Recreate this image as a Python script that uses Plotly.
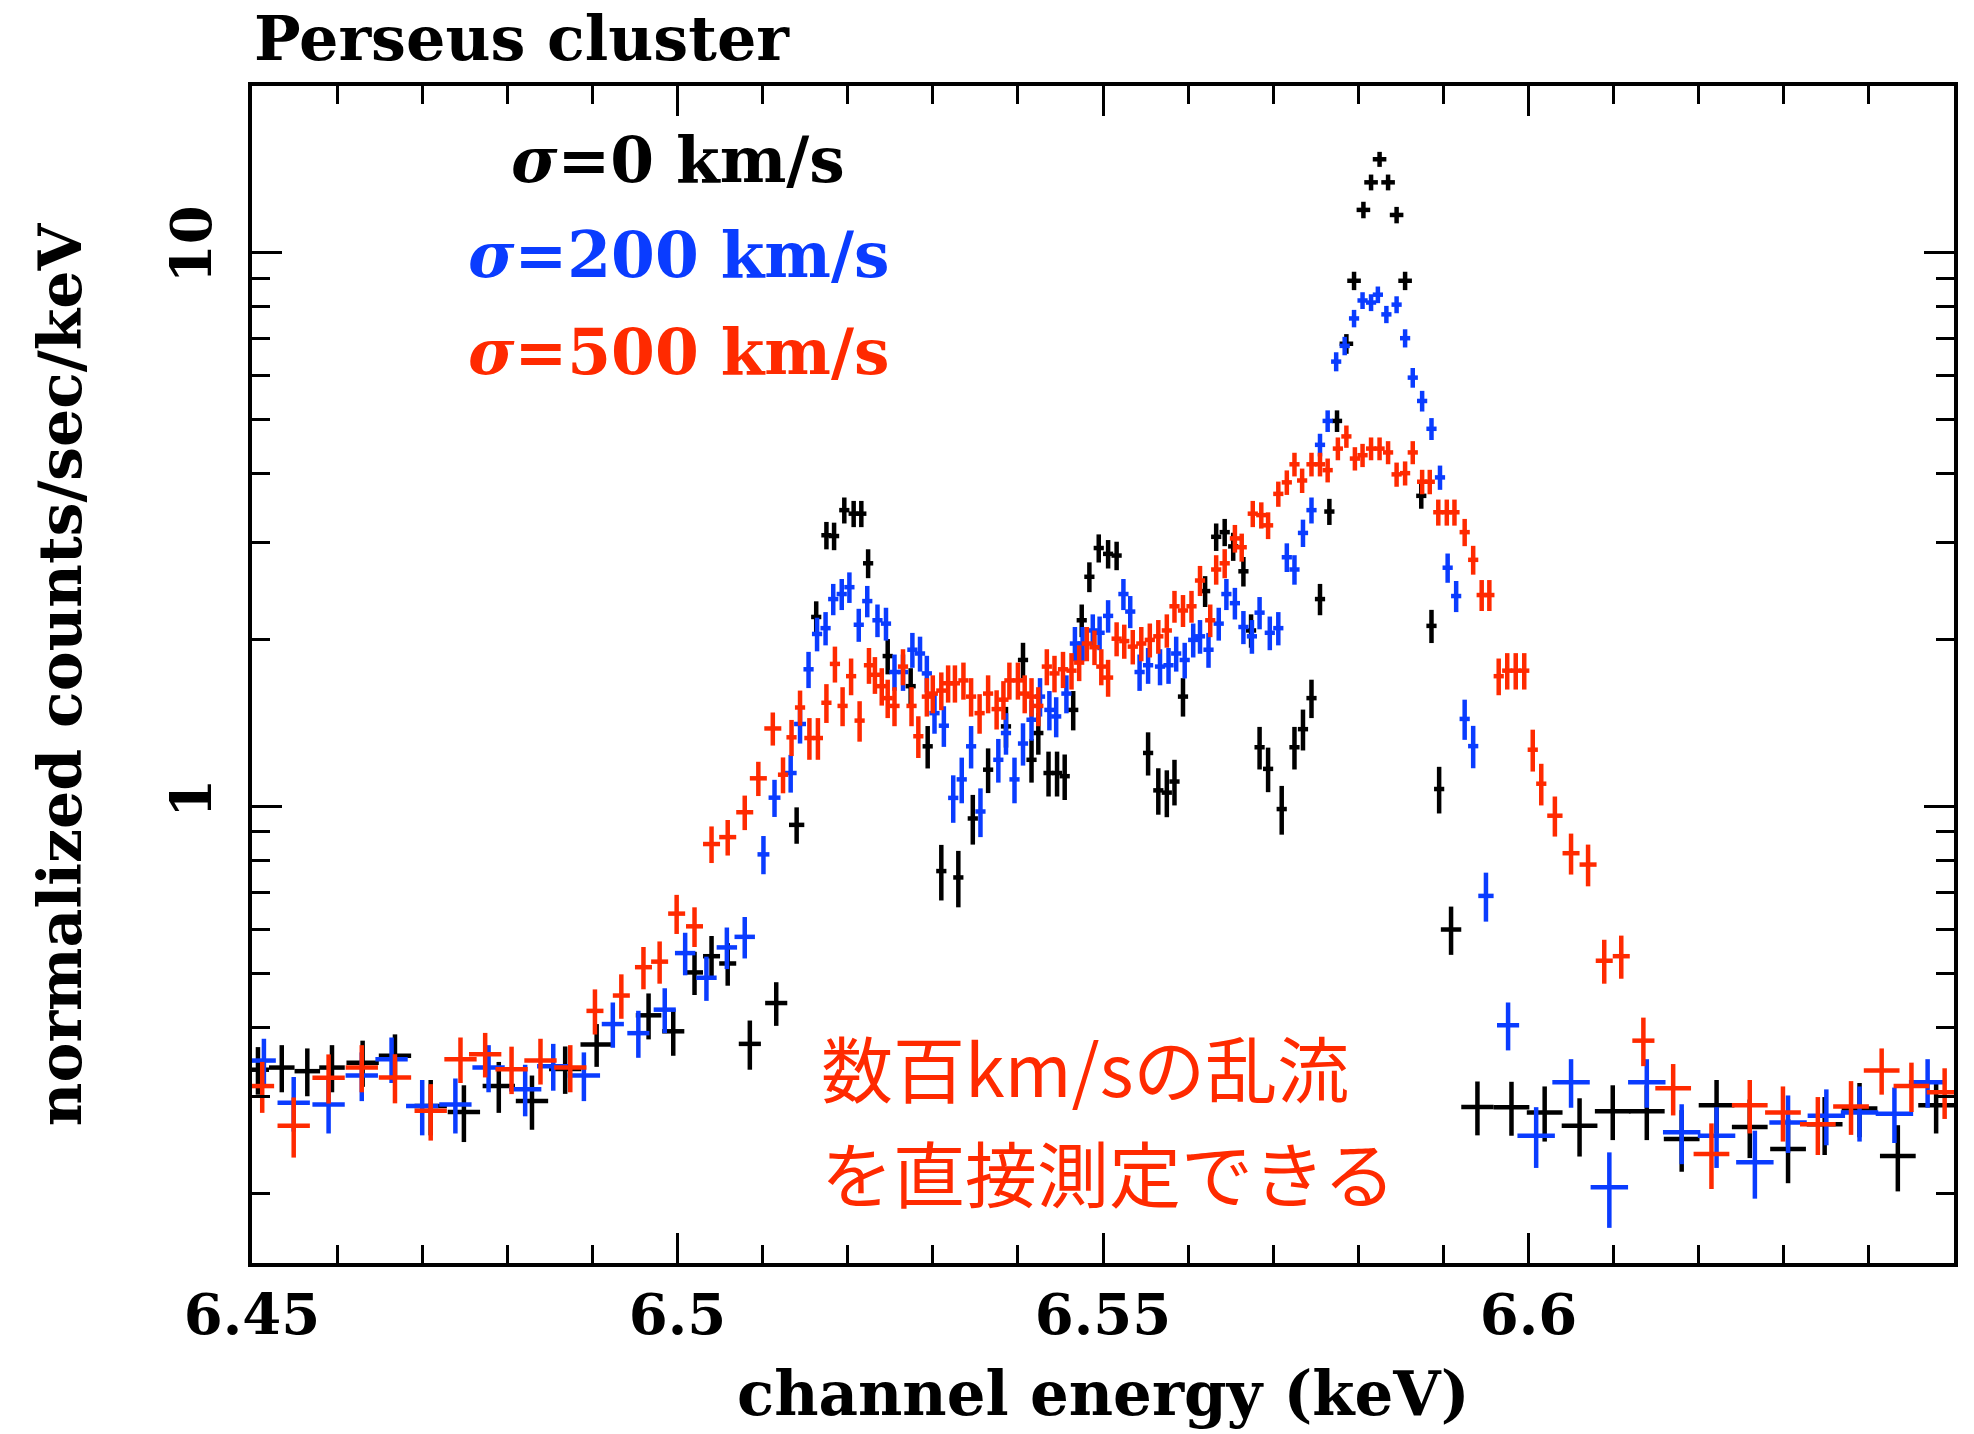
import math
import plotly.graph_objects as go

# ---------------- data ----------------
# sigma = 0 km/s (black)
bk_E = [6.4507, 6.4535, 6.4565, 6.4594, 6.4630, 6.4668, 6.4710, 6.4749, 6.4790, 6.4829,
        6.4868, 6.4905, 6.4966, 6.4995, 6.5020, 6.5040, 6.5059, 6.5085, 6.5116, 6.5140,
        6.5163, 6.5175, 6.5184, 6.5196, 6.5207, 6.5216, 6.5224, 6.5247, 6.5274, 6.5294,
        6.5310, 6.5330, 6.5347, 6.5365, 6.5386, 6.5406, 6.5416, 6.5424, 6.5436, 6.5446,
        6.5455, 6.5465, 6.5475, 6.5484, 6.5495, 6.5506, 6.5516, 6.5553, 6.5565, 6.5575,
        6.5584, 6.5594, 6.5620, 6.5633, 6.5643, 6.5653, 6.5665, 6.5674, 6.5684, 6.5694,
        6.5710, 6.5725, 6.5735, 6.5745, 6.5755, 6.5766, 6.5775, 6.5786, 6.5795, 6.5806,
        6.5815, 6.5825, 6.5835, 6.5845, 6.5855, 6.5874, 6.5886, 6.5895, 6.5909, 6.5940,
        6.5980, 6.6019, 6.6060, 6.6099, 6.6139, 6.6180, 6.6221, 6.6260, 6.6305, 6.6348,
        6.6389, 6.6434, 6.6479]
bk_v = [0.335, 0.338, 0.333, 0.338, 0.345, 0.355, 0.288, 0.281, 0.313, 0.294,
        0.336, 0.372, 0.42, 0.393, 0.502, 0.537, 0.521, 0.373, 0.442, 0.927,
        2.2, 3.09, 3.08, 3.43, 3.38, 3.38, 2.75, 1.87, 1.65, 1.285,
        0.765, 0.745, 0.952, 1.166, 1.396, 1.84, 1.215, 1.358, 1.15, 1.15,
        1.135, 1.495, 2.17, 2.6, 2.93, 2.86, 2.84, 1.25, 1.07, 1.06,
        1.11, 1.58, 2.45, 3.07, 3.13, 2.95, 2.66, 2.08, 1.28, 1.17,
        0.99, 1.28, 1.38, 1.57, 2.37, 3.41, 4.97, 6.85, 8.9, 11.95,
        13.4, 14.75, 13.4, 11.7, 8.9, 3.64, 2.12, 1.076, 0.60, 0.287,
        0.2866, 0.2805, 0.2655, 0.282, 0.282, 0.2512, 0.289, 0.264, 0.241, 0.267,
        0.285, 0.234, 0.289]
bk_dv = [0.033, 0.033, 0.033, 0.033, 0.033, 0.033, 0.033, 0.033, 0.033, 0.033,
         0.033, 0.033, 0.04, 0.038, 0.045, 0.047, 0.046, 0.038, 0.04, 0.07,
         0.148, 0.176, 0.176, 0.185, 0.184, 0.184, 0.165, 0.137, 0.128, 0.113,
         0.088, 0.087, 0.098, 0.108, 0.118, 0.136, 0.11, 0.117, 0.107, 0.107,
         0.107, 0.122, 0.147, 0.161, 0.171, 0.169, 0.168, 0.112, 0.103, 0.103,
         0.105, 0.126, 0.157, 0.175, 0.177, 0.172, 0.163, 0.144, 0.113, 0.108,
         0.1, 0.113, 0.117, 0.125, 0.154, 0.185, 0.223, 0.28, 0.34, 0.41,
         0.44, 0.46, 0.44, 0.40, 0.34, 0.19, 0.146, 0.104, 0.06, 0.032,
         0.032, 0.032, 0.032, 0.032, 0.032, 0.032, 0.032, 0.032, 0.032, 0.032,
         0.032, 0.032, 0.032]
bk_dE = ([0.0013] + [0.0015] * 3 + [0.0019] * 8 + [0.0015, 0.0013] + [0.001] * 3
         + [0.0013, 0.0013, 0.0009] + [0.0006] * 47 + [0.0008] * 8 + [0.0006] * 3
         + [0.0012, 0.0019] + [0.0021] * 13)

# sigma = 200 km/s (blue)
bl_E = [6.4514, 6.4549, 6.4590, 6.4629, 6.4664, 6.4700, 6.4739, 6.4778, 6.4821, 6.4854,
        6.4890, 6.4924, 6.4954, 6.4985, 6.5009, 6.5034, 6.5058, 6.5079, 6.5101, 6.5114,
        6.5133, 6.5144, 6.5154, 6.5164, 6.5174, 6.5183, 6.5193, 6.5202, 6.5213, 6.5223,
        6.5235, 6.5245, 6.5255, 6.5265, 6.5276, 6.5285, 6.5293, 6.5302, 6.5313, 6.5324,
        6.5334, 6.5345, 6.5356, 6.5377, 6.5386, 6.5396, 6.5406, 6.5416, 6.5426, 6.5437,
        6.5445, 6.5457, 6.5467, 6.5476, 6.5488, 6.5496, 6.5506, 6.5524, 6.5532, 6.5543,
        6.5553, 6.5567, 6.5577, 6.5586, 6.5596, 6.5606, 6.5614, 6.5624, 6.5636, 6.5645,
        6.5655, 6.5665, 6.5675, 6.5684, 6.5696, 6.5706, 6.5716, 6.5725, 6.5735, 6.5745,
        6.5755, 6.5764, 6.5774, 6.5784, 6.5795, 6.5805, 6.5815, 6.5823, 6.5833, 6.5845,
        6.5855, 6.5864, 6.5875, 6.5886, 6.5896, 6.5905, 6.5915, 6.5925, 6.5935, 6.5950,
        6.5976, 6.6009, 6.6050, 6.6095, 6.6139, 6.6180, 6.6221, 6.6266, 6.6305, 6.6350,
        6.6389, 6.6430, 6.6469]
bl_v = [0.348, 0.292, 0.290, 0.327, 0.35, 0.288, 0.290, 0.338, 0.309, 0.34,
        0.327, 0.405, 0.39, 0.43, 0.544, 0.491, 0.557, 0.582, 0.82, 1.038,
        1.15, 1.41, 1.77, 2.05, 2.1, 2.37, 2.42, 2.49, 2.13, 2.35,
        2.17, 2.14, 1.75, 1.75, 1.92, 1.89, 1.74, 1.475, 1.40, 1.037,
        1.12, 1.285, 0.98, 1.215, 1.358, 1.12, 1.30, 1.435, 1.58, 1.495,
        1.455, 1.60, 1.97, 1.97, 2.08, 2.06, 2.21, 2.42, 2.25, 1.75,
        1.80, 1.79, 1.80, 1.89, 1.84, 2.00, 2.03, 1.92, 2.14, 2.42,
        2.33, 2.11, 2.03, 2.24, 2.06, 2.10, 2.82, 2.68, 3.12, 3.43,
        4.5, 4.97, 6.36, 6.79, 7.61, 8.2, 8.13, 8.4, 7.74, 8.06,
        7.01, 5.95, 5.40, 4.81, 3.93, 2.70, 2.40, 1.44, 1.286, 0.69,
        0.403, 0.2547, 0.318, 0.2056, 0.318, 0.2582, 0.2547, 0.228, 0.269, 0.2767,
        0.2805, 0.279, 0.318]
bl_dv = [0.033, 0.033, 0.033, 0.033, 0.033, 0.033, 0.033, 0.033, 0.033, 0.033,
         0.033, 0.038, 0.038, 0.04, 0.048, 0.045, 0.048, 0.05, 0.065, 0.08,
         0.09, 0.11, 0.133, 0.143, 0.145, 0.154, 0.156, 0.158, 0.146, 0.153,
         0.147, 0.146, 0.132, 0.132, 0.139, 0.137, 0.132, 0.121, 0.118, 0.102,
         0.106, 0.113, 0.099, 0.11, 0.117, 0.106, 0.114, 0.12, 0.126, 0.122,
         0.121, 0.126, 0.14, 0.14, 0.144, 0.144, 0.149, 0.156, 0.15, 0.132,
         0.134, 0.134, 0.134, 0.137, 0.136, 0.141, 0.142, 0.139, 0.146, 0.156,
         0.153, 0.145, 0.142, 0.15, 0.144, 0.145, 0.168, 0.164, 0.177, 0.185,
         0.212, 0.223, 0.252, 0.26, 0.276, 0.286, 0.285, 0.29, 0.278, 0.284,
         0.265, 0.244, 0.232, 0.219, 0.198, 0.164, 0.155, 0.12, 0.113, 0.07,
         0.04, 0.032, 0.032, 0.032, 0.032, 0.032, 0.032, 0.032, 0.032, 0.032,
         0.032, 0.032, 0.032]
bl_dE = ([0.0014] + [0.0019] * 10 + [0.0013] * 3 + [0.0012] * 4 + [0.0007] * 4
         + [0.0006] * 77 + [0.0009, 0.0013] + [0.0022] * 12)

# sigma = 500 km/s (red)
rd_E = [6.4512, 6.4549, 6.4590, 6.4629, 6.4668, 6.4710, 6.4745, 6.4774, 6.4805, 6.4839,
        6.4874, 6.4903, 6.4934, 6.4960, 6.4979, 6.4999, 6.5020, 6.5040, 6.5059, 6.5079,
        6.5095, 6.5112, 6.5124, 6.5134, 6.5144, 6.5155, 6.5165, 6.5175, 6.5185, 6.5194,
        6.5204, 6.5214, 6.5225, 6.5232, 6.5240, 6.5247, 6.5255, 6.5265, 6.5275, 6.5283,
        6.5293, 6.5300, 6.5310, 6.5318, 6.5326, 6.5336, 6.5345, 6.5355, 6.5365, 6.5375,
        6.5383, 6.5390, 6.5400, 6.5408, 6.5416, 6.5424, 6.5434, 6.5443, 6.5453, 6.5463,
        6.5472, 6.5481, 6.5490, 6.5498, 6.5506, 6.5516, 6.5525, 6.5535, 6.5545, 6.5555,
        6.5565, 6.5575, 6.5584, 6.5594, 6.5604, 6.5614, 6.5626, 6.5633, 6.5643, 6.5655,
        6.5663, 6.5676, 6.5686, 6.5694, 6.5706, 6.5716, 6.5725, 6.5734, 6.5745, 6.5755,
        6.5764, 6.5776, 6.5786, 6.5796, 6.5805, 6.5815, 6.5825, 6.5835, 6.5845, 6.5855,
        6.5864, 6.5875, 6.5884, 6.5894, 6.5904, 6.5913, 6.5925, 6.5935, 6.5945, 6.5954,
        6.5965, 6.5975, 6.5985, 6.5995, 6.6005, 6.6015, 6.6031, 6.6050, 6.6070, 6.6089,
        6.6109, 6.6135, 6.6170, 6.6215, 6.6260, 6.6299, 6.6340, 6.6379, 6.6415, 6.6450,
        6.6489]
rd_v = [0.313, 0.2655, 0.324, 0.338, 0.3243, 0.2825, 0.350, 0.3574, 0.3357, 0.348,
        0.338, 0.4278, 0.456, 0.513, 0.525, 0.641, 0.608, 0.856, 0.881, 0.977,
        1.125, 1.384, 1.142, 1.334, 1.51, 1.33, 1.33, 1.54, 1.81, 1.52,
        1.72, 1.43, 1.80, 1.73, 1.65, 1.57, 1.52, 1.79, 1.52, 1.34,
        1.58, 1.60, 1.62, 1.67, 1.67, 1.69, 1.58, 1.475, 1.60, 1.50,
        1.56, 1.69, 1.69, 1.60, 1.58, 1.52, 1.79, 1.74, 1.77, 1.76,
        1.82, 1.97, 1.94, 1.79, 1.71, 2.01, 1.99, 1.945, 1.97, 2.0,
        2.03, 2.08, 2.30, 2.26, 2.30, 2.56, 2.17, 2.68, 2.75, 3.05,
        2.94, 3.38, 3.36, 3.22, 3.67, 3.85, 4.15, 3.88, 4.15, 4.15,
        4.05, 4.43, 4.66, 4.25, 4.31, 4.43, 4.43, 4.36, 3.98, 4.0,
        4.36, 3.86, 3.86, 3.40, 3.40, 3.40, 3.13, 2.79, 2.41, 2.41,
        1.72, 1.76, 1.76, 1.76, 1.267, 1.10, 0.963, 0.824, 0.786, 0.527,
        0.537, 0.378, 0.31, 0.236, 0.289, 0.2805, 0.267, 0.2875, 0.334, 0.313,
        0.305]
rd_dv = [0.033, 0.033, 0.033, 0.033, 0.033, 0.033, 0.033, 0.033, 0.033, 0.033,
         0.033, 0.04, 0.042, 0.045, 0.046, 0.052, 0.05, 0.065, 0.065, 0.07,
         0.08, 0.095, 0.085, 0.1, 0.11, 0.115, 0.115, 0.124, 0.135, 0.123,
         0.131, 0.12, 0.134, 0.132, 0.128, 0.125, 0.123, 0.134, 0.123, 0.116,
         0.126, 0.126, 0.127, 0.129, 0.129, 0.13, 0.126, 0.121, 0.126, 0.122,
         0.125, 0.13, 0.13, 0.126, 0.126, 0.123, 0.134, 0.132, 0.133, 0.133,
         0.135, 0.14, 0.139, 0.134, 0.131, 0.142, 0.141, 0.139, 0.14, 0.141,
         0.142, 0.144, 0.152, 0.15, 0.152, 0.16, 0.147, 0.164, 0.166, 0.175,
         0.171, 0.184, 0.183, 0.179, 0.192, 0.196, 0.204, 0.197, 0.204, 0.204,
         0.201, 0.21, 0.216, 0.206, 0.208, 0.21, 0.21, 0.209, 0.2, 0.2,
         0.209, 0.196, 0.196, 0.184, 0.184, 0.184, 0.177, 0.167, 0.155, 0.155,
         0.131, 0.133, 0.133, 0.133, 0.11, 0.095, 0.08, 0.07, 0.068, 0.048,
         0.048, 0.038, 0.033, 0.032, 0.032, 0.032, 0.032, 0.032, 0.032, 0.032,
         0.032]
rd_dE = ([0.0014] + [0.0019] * 10 + [0.001] * 11 + [0.0006] * 94 + [0.0009]
         + [0.001] * 4 + [0.0013] + [0.0021] * 9)

# axis ticks / labels
x_major = [6.45, 6.5, 6.55, 6.6]
x_major_text = ["6.45", "6.5", "6.55", "6.6"]
x_minor = [6.46, 6.47, 6.48, 6.49, 6.51, 6.52, 6.53, 6.54, 6.56, 6.57, 6.58, 6.59,
           6.61, 6.62, 6.63, 6.64]
y_major = [1, 10]
y_major_text = ["1", "10"]
y_minor = [0.2, 0.3, 0.4, 0.5, 0.6, 0.7, 0.8, 0.9, 2, 3, 4, 5, 6, 7, 8, 9]

# ---------------- styling ----------------
BLACK = "#000000"
BLUE = "#0a3cff"
RED = "#ff2a00"
SERIF = "DejaVu Serif, serif"
CJK = "Noto Sans CJK JP, Noto Sans, sans-serif"

fig = go.Figure()
for E, v, dv, dE, col in [(bk_E, bk_v, bk_dv, bk_dE, BLACK),
                          (bl_E, bl_v, bl_dv, bl_dE, BLUE),
                          (rd_E, rd_v, rd_dv, rd_dE, RED)]:
    fig.add_trace(go.Scatter(
        x=E, y=v, mode="markers",
        marker=dict(size=3, color=col),
        error_x=dict(type="data", array=dE, color=col, thickness=4.5, width=0),
        error_y=dict(type="data", array=dv, color=col, thickness=4.5, width=0),
        showlegend=False, hoverinfo="skip"))

axis_common = dict(
    showline=True, linewidth=4, linecolor=BLACK, mirror="allticks",
    ticks="inside", ticklen=30, tickwidth=3, tickcolor=BLACK,
    showgrid=False, zeroline=False,
    tickfont=dict(family=SERIF, size=56, color=BLACK, weight="bold"),
)

fig.update_layout(
    width=1974, height=1434,
    margin=dict(l=252, r=20, t=86, b=171),
    paper_bgcolor="white", plot_bgcolor="white",
    xaxis=dict(range=[6.45, 6.65], tickmode="array", tickvals=x_major, ticktext=x_major_text,
               ticklabelstandoff=0,
               minor=dict(tickmode="array", tickvals=x_minor, ticks="inside", ticklen=18,
                          tickwidth=3, tickcolor=BLACK, showgrid=False),
               **axis_common),
    yaxis=dict(type="log", range=[math.log10(0.15), math.log10(20)], tickmode="array",
               tickvals=y_major, ticktext=y_major_text, tickangle=-90, ticklabelstandoff=15,
               minor=dict(tickmode="array", tickvals=y_minor, ticks="inside", ticklen=18,
                          tickwidth=3, tickcolor=BLACK, showgrid=False),
               **axis_common),
)

ann = [
    dict(text="Perseus cluster", x=0, y=1.0405, xanchor="left", yanchor="middle",
         font=dict(family=SERIF, size=62, color=BLACK, weight="bold")),
    dict(text="channel energy (keV)", x=0.5, y=-0.111, xanchor="center", yanchor="middle",
         font=dict(family=SERIF, size=61, color=BLACK, weight="bold")),
    dict(text="normalized counts/sec/keV", x=-0.113, y=0.5, xanchor="center", yanchor="middle",
         textangle=-90, font=dict(family=SERIF, size=60, color=BLACK, weight="bold")),
    dict(text="<i>σ</i>=0 km/s", x=0.2503, y=0.937, xanchor="center", yanchor="middle",
         font=dict(family=SERIF, size=63, color=BLACK, weight="bold")),
    dict(text="<i>σ</i>=200 km/s", x=0.2503, y=0.856, xanchor="center", yanchor="middle",
         font=dict(family=SERIF, size=63, color=BLUE, weight="bold")),
    dict(text="<i>σ</i>=500 km/s", x=0.2503, y=0.774, xanchor="center", yanchor="middle",
         font=dict(family=SERIF, size=63, color=RED, weight="bold")),
    dict(text="数百km/sの乱流", x=0.333, y=0.168, xanchor="left", yanchor="middle",
         font=dict(family=CJK, size=72, color=RED)),
    dict(text="を直接測定できる", x=0.333, y=0.079, xanchor="left", yanchor="middle",
         font=dict(family=CJK, size=72, color=RED)),
]
for a in ann:
    a.update(xref="paper", yref="paper", showarrow=False)
    fig.add_annotation(**a)

# remove the default 8 px page margin so the figure fills the window exactly
fig.write_html("out.html", config={"displayModeBar": False},
               post_script="document.body.style.margin='0px';")
